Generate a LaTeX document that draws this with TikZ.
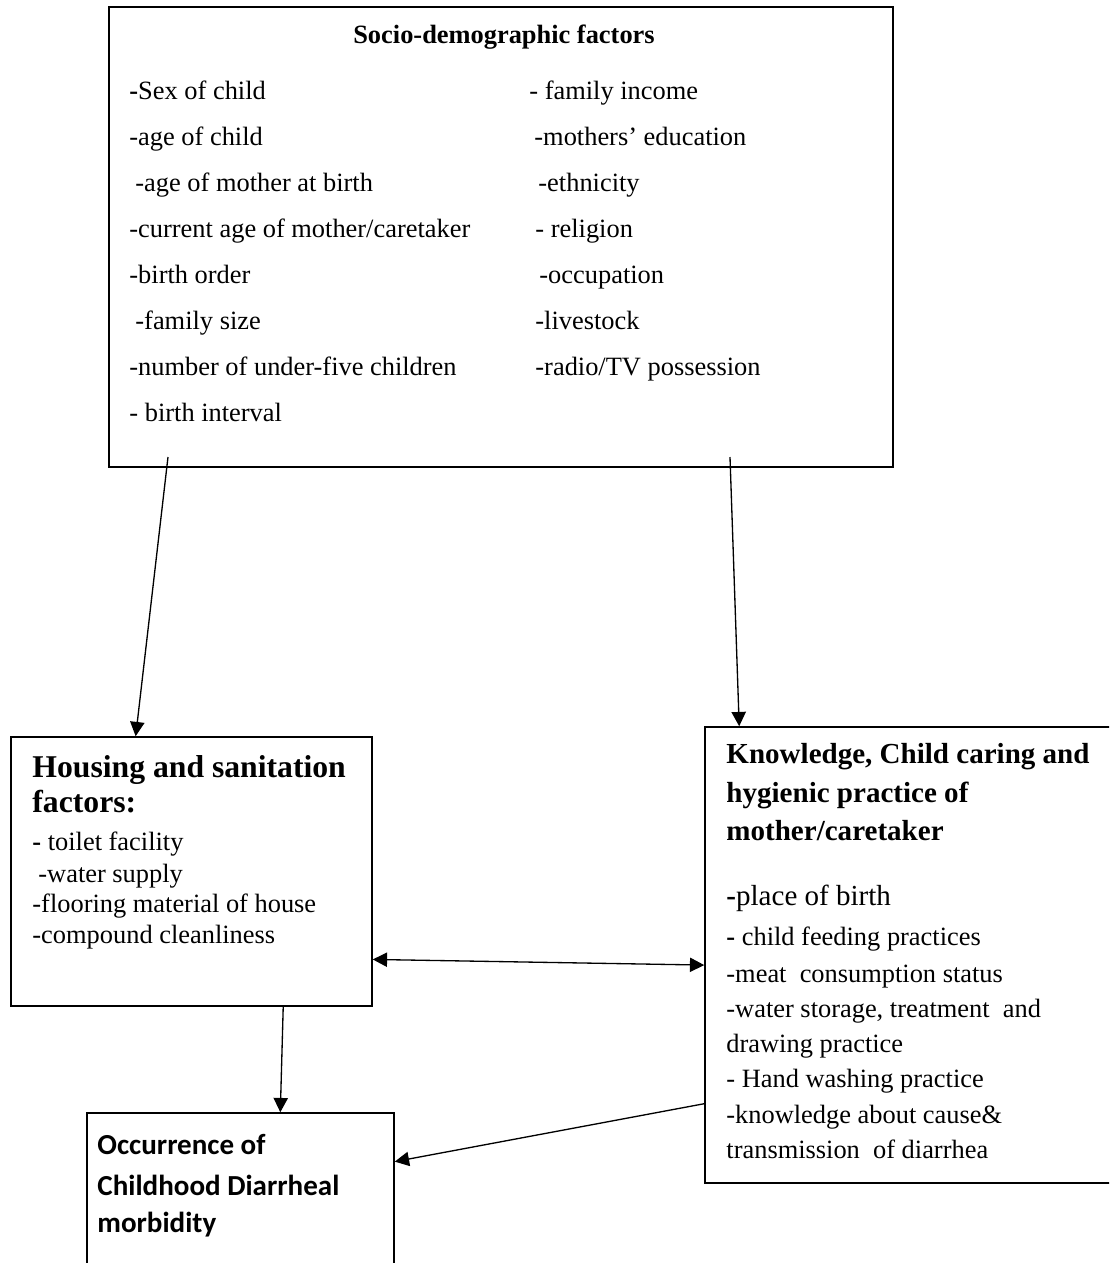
\documentclass[tikz,border=0pt]{standalone}
\usepackage{fontspec}
\setmainfont{Liberation Serif}
\newfontfamily\calibri{Carlito}
\usetikzlibrary{arrows.meta,positioning,fit,calc}

\begin{document}
\begin{tikzpicture}[x=0.4545pt,y=-0.4545pt,
   box/.style={draw,line width=0.7pt,inner sep=0pt},
   item/.style={anchor=base west,inner sep=0pt,font=\fontsize{12}{14}\selectfont},
   head/.style={anchor=base west,inner sep=0pt,font=\fontsize{13.2}{16}\selectfont\bfseries},
   arr/.style={-{Triangle[length=6.5pt,width=6.5pt]},line width=0.6pt},
   arrr/.style={{Triangle[length=6.5pt,width=6.5pt]}-{Triangle[length=6.5pt,width=6.5pt]},line width=0.6pt}]
   \useasboundingbox (0,0) rectangle (1109,1263);
   \clip (0,0) rectangle (1109,1263);

   \node[box,fit={(109,7) (893,467)}] (socio) {};
   \node[box,fit={(11,737) (372,1006)}] (house) {};
   \node[box,fit={(705,727) (1120,1183)}] (know) {};
   \node[box,fit={(87,1113) (394,1275)}] (occur) {};

   \node[item,anchor=base,font=\fontsize{12}{14}\selectfont\bfseries] (sociohead) at (504,43) {Socio-demographic factors};
   \foreach \x/\t [count=\i] in {129/{\textbf{-}Sex of child},129/{-age of child},135/{-age of mother at birth},
      129/{-current age of mother/caretaker},129/{-birth order},135/{-family size},
      129/{-number of under-five children},129/{- birth interval}}
      \node[item] (left\i) at (\x,99+46*\i-46) {\t};
   \foreach \x/\t [count=\i] in {529/{- family income},534/{-mothers’ education},538/{-ethnicity},
      535/{- religion},539/{-occupation},535/{-livestock},535/{-radio/TV possession}}
      \node[item] (right\i) at (\x,99+46*\i-46) {\t};

   \node[head,font=\fontsize{14.4}{17}\selectfont\bfseries] (househead1) at (32,777) {Housing and sanitation};
   \node[head,font=\fontsize{14.4}{17}\selectfont\bfseries] (househead2) at (32,812) {factors:};
   \node[item] (house1) at (32,850) {\textbf{-} toilet facility};
   \node[item] (house2) at (38,882) {-water supply};
   \node[item] (house3) at (32,912) {-flooring material of house};
   \node[item] (house4) at (32,943) {-compound cleanliness};

   \node[head] (knowhead1) at (726,763) {Knowledge, Child caring and};
   \node[head] (knowhead2) at (726,802) {hygienic practice of};
   \node[head] (knowhead3) at (726,840) {mother/caretaker};
   \node[item,font=\fontsize{13.2}{16}\selectfont] (know1) at (726,905) {\textbf{-}place of birth};
   \node[item] (know2) at (726,945) {\textbf{-} child feeding practices};
   \node[item] (know3) at (726,982) {-meat\ \ consumption status};
   \node[item] (know4) at (726,1017) {-water storage, treatment\ \ and};
   \node[item] (know5) at (726,1052) {drawing practice};
   \node[item] (know6) at (726,1087) {- Hand washing practice};
   \node[item] (know7) at (726,1123) {-knowledge about cause\&};
   \node[item] (know8) at (726,1158) {transmission\ \ of diarrhea};

   \node[head,font=\fontsize{13.2}{16}\calibri\bfseries] (occurhead1) at (97,1154) {Occurrence of};
   \node[head,font=\fontsize{13.2}{16}\calibri\bfseries] (occurhead2) at (97,1195) {Childhood Diarrheal};
   \node[head,font=\fontsize{13.2}{16}\calibri\bfseries] (occurhead3) at (97,1232) {morbidity};

   \coordinate (s1) at (168,457);
   \coordinate (s2) at (730,457);
   \draw[arr] (s1) -- ($(house.north west)!0.346!(house.north east)$);
   \draw[arr] (s2) -- ($(know.north west)!0.084!(know.north east)$);
   \draw[arrr] ($(house.north east)!0.825!(house.south east)$) -- ($(know.north west)!0.522!(know.south west)$);
   \draw[arr] ($(house.south west)!0.753!(house.south east)$) -- ($(occur.north west)!0.629!(occur.north east)$);
   \draw[arr] ($(know.north west)!0.825!(know.south west)$) -- ($(occur.north east)!0.302!(occur.south east)$);
\end{tikzpicture}
\end{document}
